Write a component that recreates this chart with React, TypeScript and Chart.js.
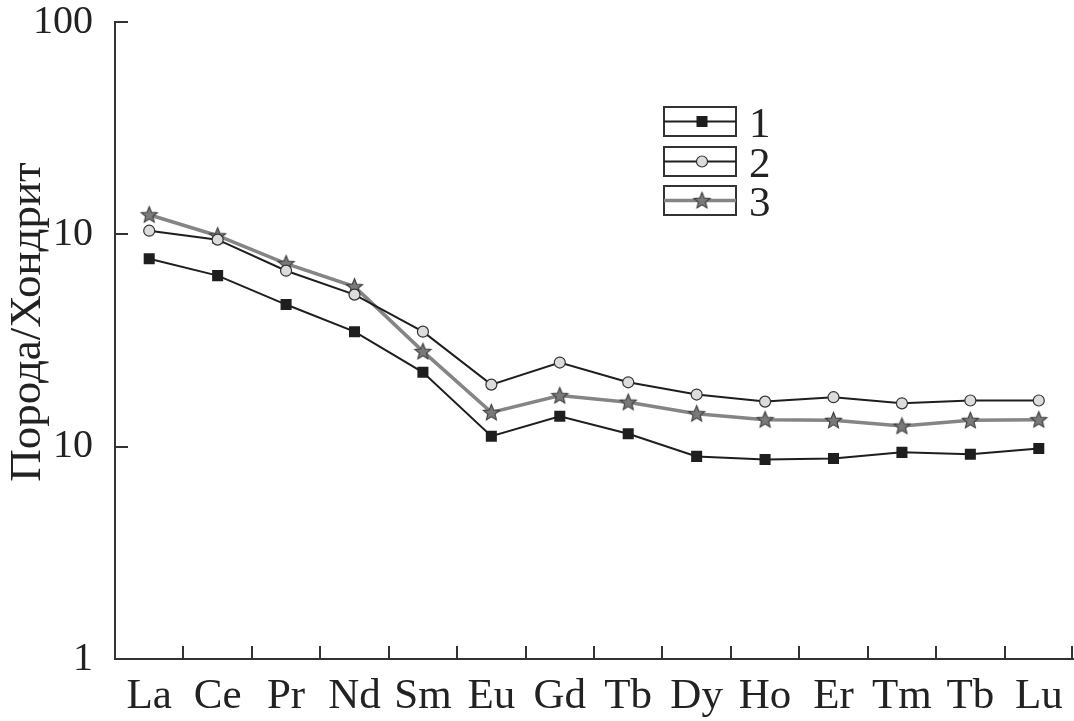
import React, { useEffect, useRef } from "react";
import { Chart, registerables } from "chart.js";

Chart.register(...registerables);

const categories = ["La", "Ce", "Pr", "Nd", "Sm", "Eu", "Gd", "Tb", "Dy", "Ho", "Er", "Tm", "Tb", "Lu"];
const series1 = [76.8, 63.9, 46.7, 34.8, 22.4, 11.2, 13.9, 11.5, 9.0, 8.7, 8.8, 9.4, 9.2, 9.8];
const series2 = [104, 94.4, 67.4, 52.0, 34.8, 19.6, 24.9, 20.1, 17.6, 16.3, 17.1, 16.0, 16.5, 16.5];
const series3 = [123.7, 98.5, 72.8, 56.7, 28.1, 14.5, 17.4, 16.2, 14.3, 13.4, 13.3, 12.5, 13.3, 13.4];
const seriesLabels = ["1", "2", "3"];
const yTickValues = [1, 10, 100, 1000];
const yTickLabels = ["1", "10", "10", "100"];
const yTitle = "Порода/Хондрит";

const FONT = "Liberation Serif";
const DARK = "#1e1e1e";
const AXIS = "#333333";
const STAR_LINE = "#858585";

function makeStar(outer: number, inner: number, fill: string, stroke: string) {
  const size = Math.ceil(outer * 2 + 4);
  const c = document.createElement("canvas");
  c.width = size;
  c.height = size;
  const ctx = c.getContext("2d")!;
  const cx = size / 2;
  const cy = size / 2 + 0.5;
  ctx.beginPath();
  for (let i = 0; i < 10; i++) {
    const r = i % 2 === 0 ? outer : inner;
    const a = -Math.PI / 2 + (i * Math.PI) / 5;
    const x = cx + r * Math.cos(a);
    const y = cy + r * Math.sin(a);
    if (i === 0) ctx.moveTo(x, y);
    else ctx.lineTo(x, y);
  }
  ctx.closePath();
  ctx.fillStyle = fill;
  ctx.fill();
  ctx.lineWidth = 1.1;
  ctx.strokeStyle = stroke;
  ctx.stroke();
  return c;
}

export default function App() {
  const ref = useRef<HTMLCanvasElement | null>(null);

  useEffect(() => {
    const canvas = ref.current;
    if (!canvas) return;
    const star = makeStar(8.5, 3.8, "#7a7a7a", "#3a3a3a");

    const overlay = {
      id: "overlay",
      afterDraw(chart: any) {
        const { ctx, chartArea } = chart;
        const xs = chart.scales.x;
        const ys = chart.scales.y;
        ctx.save();
        ctx.strokeStyle = AXIS;
        ctx.lineWidth = 2;
        for (const v of yTickValues) {
          if (v === yTickValues[0]) continue;
          const y = Math.round(ys.getPixelForValue(v));
          ctx.beginPath();
          ctx.moveTo(chartArea.left, y);
          ctx.lineTo(chartArea.left + 13, y);
          ctx.stroke();
        }
        const xt: number[] = [];
        for (let i = 0; i < categories.length - 1; i++) {
          xt.push((xs.getPixelForValue(i) + xs.getPixelForValue(i + 1)) / 2);
        }
        xt.push(chartArea.right - 1);
        for (const x of xt) {
          const xx = Math.round(x);
          ctx.beginPath();
          ctx.moveTo(xx, chartArea.bottom);
          ctx.lineTo(xx, chartArea.bottom - 13);
          ctx.stroke();
        }
        ctx.fillStyle = "#222";
        ctx.font = `45px "${FONT}"`;
        ctx.textAlign = "center";
        ctx.textBaseline = "alphabetic";
        ctx.translate(40, 322);
        ctx.rotate(-Math.PI / 2);
        ctx.fillText(yTitle, 0, 0);
        ctx.restore();

        ctx.save();
        const boxX = 664;
        const boxW = 72;
        const boxH = 29;
        const boxYs = [107, 147, 186];
        chart.data.datasets.forEach((ds: any, i: number) => {
          const by = boxYs[i];
          ctx.strokeStyle = AXIS;
          ctx.lineWidth = 2;
          ctx.strokeRect(boxX, by, boxW, boxH);
          const my = by + boxH / 2;
          ctx.beginPath();
          ctx.moveTo(boxX, my);
          ctx.lineTo(boxX + boxW, my);
          ctx.strokeStyle = ds.borderColor;
          ctx.lineWidth = ds.borderWidth;
          ctx.stroke();
          const mx = boxX + 38;
          if (ds.pointStyle === "rect") {
            ctx.fillStyle = DARK;
            ctx.fillRect(mx - 5.5, my - 5.5, 11, 11);
          } else if (ds.pointStyle === "circle") {
            ctx.beginPath();
            ctx.arc(mx, my, 5.5, 0, Math.PI * 2);
            ctx.fillStyle = "#dcdcdc";
            ctx.fill();
            ctx.lineWidth = 1.2;
            ctx.strokeStyle = AXIS;
            ctx.stroke();
          } else {
            ctx.drawImage(star, mx - star.width / 2, my - star.height / 2);
          }
          ctx.fillStyle = "#222";
          ctx.font = `43px "${FONT}"`;
          ctx.textAlign = "left";
          ctx.textBaseline = "alphabetic";
          ctx.fillText(seriesLabels[i], 749, by + boxH + 1);
        });
        ctx.restore();
      },
    };

    const chart = new Chart(canvas, {
      type: "line",
      data: {
        labels: categories,
        datasets: [
          {
            label: seriesLabels[0],
            data: series1,
            borderColor: DARK,
            borderWidth: 2,
            pointStyle: "rect",
            pointRadius: 7.8,
            pointBackgroundColor: DARK,
            pointBorderColor: DARK,
            pointBorderWidth: 0,
            tension: 0,
          },
          {
            label: seriesLabels[1],
            data: series2,
            borderColor: DARK,
            borderWidth: 2,
            pointStyle: "circle",
            pointRadius: 5.5,
            pointBackgroundColor: "#dcdcdc",
            pointBorderColor: AXIS,
            pointBorderWidth: 1.2,
            tension: 0,
          },
          {
            label: seriesLabels[2],
            data: series3,
            borderColor: STAR_LINE,
            borderWidth: 3.5,
            pointStyle: star as any,
            pointRadius: 8,
            tension: 0,
          },
        ],
      },
      options: {
        responsive: false,
        animation: false,
        events: [],
        layout: { autoPadding: false, padding: { top: 22, right: 1, left: 0, bottom: 0 } },
        plugins: {
          legend: { display: false },
          tooltip: { enabled: false },
          title: { display: false },
        },
        scales: {
          x: {
            type: "category",
            offset: true,
            grid: { display: false },
            border: { display: true, color: AXIS, width: 2 },
            ticks: {
              autoSkip: false,
              maxRotation: 0,
              color: "#222",
              padding: 4,
              font: { family: `"${FONT}"`, size: 43, lineHeight: 1.2 },
            },
            afterFit: (s: any) => {
              s.height = 62;
              s.paddingLeft = 0;
              s.paddingRight = 0;
              s.paddingTop = 0;
              s.paddingBottom = 0;
            },
          },
          y: {
            type: "logarithmic",
            min: 1,
            max: 1000,
            grid: { display: false },
            border: { display: true, color: AXIS, width: 2 },
            afterBuildTicks: (s: any) => {
              s.ticks = yTickValues.map((v) => ({ value: v }));
            },
            ticks: {
              color: "#222",
              padding: 14,
              font: { family: `"${FONT}"`, size: 40, lineHeight: 1 },
              callback: (value: any) => {
                const i = yTickValues.indexOf(Number(value));
                return i >= 0 ? yTickLabels[i] : "";
              },
            },
            afterFit: (s: any) => {
              s.width = 115;
              s.paddingTop = 0;
              s.paddingBottom = 0;
              s.paddingLeft = 0;
              s.paddingRight = 0;
            },
          },
        },
      },
      plugins: [overlay],
    });

    return () => chart.destroy();
  }, []);

  return (
    <div style={{ position: "fixed", left: 0, top: 0, width: 1074, height: 721, background: "#fff" }}>
      <canvas ref={ref} width={1074} height={721} style={{ display: "block" }} />
    </div>
  );
}
